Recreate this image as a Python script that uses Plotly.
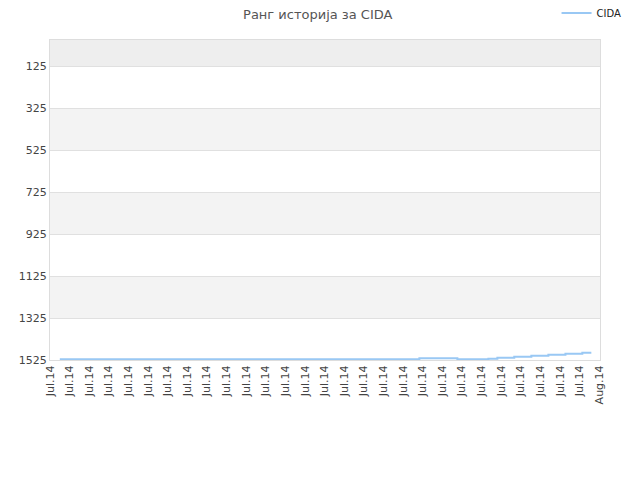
import plotly.graph_objects as go

# rank history for CIDA (lower is better, axis reversed)
times = [
    "2014-07-04 12:00", "2014-07-22 20:00", "2014-07-24 18:30",
    "2014-07-26 08:24", "2014-07-26 19:26", "2014-07-27 16:05",
    "2014-07-28 13:00", "2014-07-29 09:50", "2014-07-30 06:43",
    "2014-07-31 03:22", "2014-07-31 14:24",
]
ranks = [1522, 1517, 1522, 1519, 1514, 1509, 1505, 1500, 1495, 1490, 1490]

y_ticks = [125, 325, 525, 725, 925, 1125, 1325, 1525]
tick_days = ["2014-07-%02d" % d for d in range(4, 32)] + ["2014-08-01"]
tick_text = ["Jul.14"] * 28 + ["Aug.14"]

fig = go.Figure()
fig.add_trace(go.Scatter(
    x=times, y=ranks, name="CIDA", mode="lines", line_shape="hv",
    line=dict(color="#99c8f4", width=2),
))

# alternating bands
bands = [(1, 125, "#eeeeee")]
for i in range(len(y_ticks) - 1):
    if i % 2 == 1:
        bands.append((y_ticks[i], y_ticks[i + 1], "#f3f3f3"))
for y0, y1, c in bands:
    fig.add_shape(type="rect", xref="paper", yref="y", x0=0, x1=1, y0=y0, y1=y1,
                  fillcolor=c, line_width=0, layer="below")

fig.update_layout(
    width=640, height=480,
    margin=dict(l=42, r=48, t=32, b=128, autoexpand=False),
    paper_bgcolor="white", plot_bgcolor="white",
    font=dict(family="DejaVu Sans", size=11, color="#444"),
    title=dict(text="Ранг историја за CIDA", x=0.484, y=0.9875, xanchor="center",
               yanchor="middle", font=dict(size=13, color="#555")),
    showlegend=True,
    legend=dict(x=0.921, y=1.084, xanchor="left", yanchor="middle",
                bgcolor="rgba(0,0,0,0)", font=dict(size=10, color="#222")),
    xaxis=dict(
        type="date", range=["2014-07-04 00:00", "2014-08-01 01:00"],
        tickvals=tick_days, ticktext=tick_text, tickangle=-90,
        showgrid=False, showline=True, linecolor="#dddddd", mirror=True,
        ticks="", tickfont=dict(size=11, color="#444"),
    ),
    yaxis=dict(
        range=[1525, 1], tickvals=y_ticks, showgrid=True, gridcolor="#e0e0e0",
        showline=True, linecolor="#dddddd", mirror=True, zeroline=False,
        ticks="", tickfont=dict(size=11, color="#444"),
    ),
)

fig.write_html("out.html")
